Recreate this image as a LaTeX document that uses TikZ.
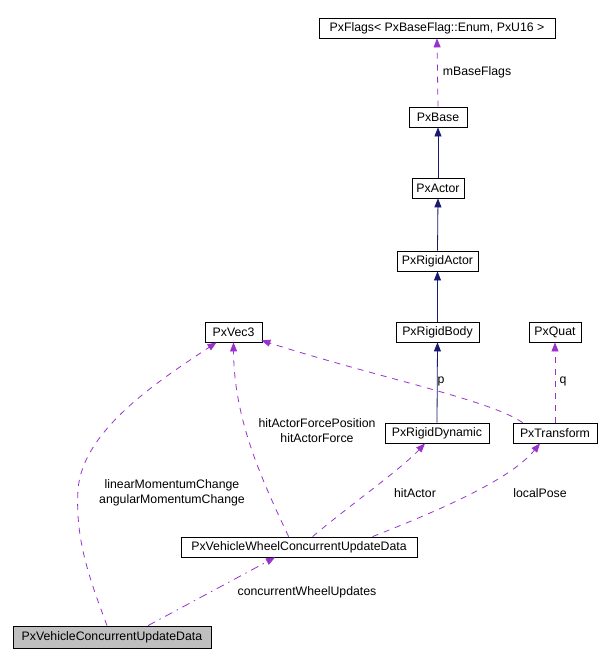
\documentclass[tikz,border=0pt]{standalone}
\usepackage{fontspec}
\setmainfont{Liberation Sans}
\usetikzlibrary{arrows.meta}
\definecolor{edgepurple}{RGB}{153,50,204}
\definecolor{edgenavy}{RGB}{25,25,112}
\definecolor{boxgray}{RGB}{191,191,191}
\tikzset{
  cls/.style={draw=black, line width=0.8pt, fill=white, inner sep=0pt, minimum height=20pt, font=\fontsize{12.3}{14}\selectfont},
  inh/.style={draw=edgenavy, line width=0.8pt, -{Triangle[length=9pt,width=7pt]}, edgenavy},
  usage/.style={draw=edgepurple, line width=0.8pt, dash pattern=on 6pt off 6pt, -{Triangle[length=9pt,width=7pt]}, edgepurple},
  usagedd/.style={draw=edgepurple, line width=0.8pt, dash pattern=on 8pt off 5pt on 1.5pt off 5pt, -{Triangle[length=9pt,width=7pt]}, edgepurple},
  lbl/.style={font=\fontsize{12.3}{15}\selectfont, align=center, inner sep=0pt}
}
\begin{document}
\begin{tikzpicture}[x=1pt,y=-1pt]
\useasboundingbox (0,0) rectangle (601,665);
\fill[white] (0,0) rectangle (601,665);
% nodes
\node[cls, minimum width=236pt] (flags) at (437,28) {PxFlags< PxBaseFlag::Enum, PxU16 >};
\node[cls, minimum width=58pt] (base) at (438,117) {PxBase};
\node[cls, minimum width=52pt] (actor) at (438,188) {PxActor};
\node[cls, minimum width=81pt] (ractor) at (437.5,261) {PxRigidActor};
\node[cls, minimum width=83pt] (rbody) at (437.5,332) {PxRigidBody};
\node[cls, minimum width=52pt] (quat) at (555,332) {PxQuat};
\node[cls, minimum width=57pt] (vec) at (233.5,332) {PxVec3};
\node[cls, minimum width=104pt] (rdyn) at (437,433) {PxRigidDynamic};
\node[cls, minimum width=84pt] (trans) at (555,433) {PxTransform};
\node[cls, minimum width=236pt] (wheel) at (299,547) {PxVehicleWheelConcurrentUpdateData};
\node[cls, fill=boxgray, minimum width=198pt, minimum height=22pt] (veh) at (112,637) {PxVehicleConcurrentUpdateData};
% inheritance
\draw[inh] (actor.north) -- (base.south);
\draw[inh] (ractor.north) -- (actor.south);
\draw[inh] (rbody.north) -- (ractor.south);
\draw[inh] (rdyn.north) -- (rbody.south);
% usage
\draw[usage] (base.north) -- (flags.south);
\draw[usage] (trans.north) -- (quat.south);
\draw[usage] ([xshift=10pt]trans.north west) .. controls (490,400) and (380,378) .. ([xshift=-1pt,yshift=2pt]vec.south east);
\draw[usage] ([xshift=108pt]wheel.north west) .. controls (262,480) and (234,420) .. (vec.south);
\draw[usage] ([xshift=-5pt]veh.north) .. controls (90,580) and (75,540) .. (78,490) .. controls (82,430) and (160,380) .. ([xshift=-17pt]vec.south);
\draw[usage] ([xshift=132pt]wheel.north west) .. controls (350,505) and (400,470) .. ([xshift=-12pt]rdyn.south);
\draw[usage] ([xshift=192pt]wheel.north west) .. controls (440,510) and (510,480) .. ([xshift=-15pt]trans.south);
\draw[usagedd] ([xshift=36pt]veh.north) -- ([xshift=-24pt]wheel.south);
% labels
\node[lbl] (l1) at (477,72) {mBaseFlags};
\node[lbl] (l2) at (441,381) {p};
\node[lbl] (l3) at (563,381) {q};
\node[lbl] (l4) at (317,431) {hitActorForcePosition\\hitActorForce};
\node[lbl] (l5) at (172,493) {linearMomentumChange\\angularMomentumChange};
\node[lbl] (l6) at (415,493) {hitActor};
\node[lbl] (l7) at (540,493) {localPose};
\node[lbl] (l8) at (307,592) {concurrentWheelUpdates};
\end{tikzpicture}
\end{document}
